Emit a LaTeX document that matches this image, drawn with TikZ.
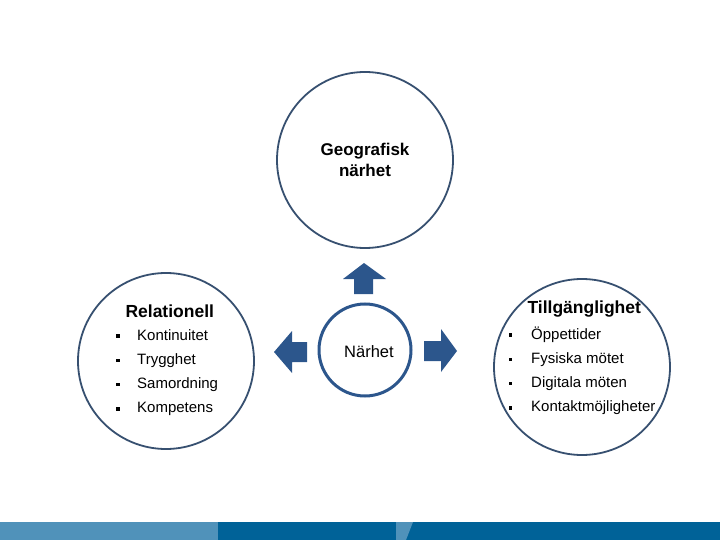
\documentclass[tikz,border=0pt]{standalone}
\usepackage{fontspec}
\setmainfont{Liberation Sans}
\usetikzlibrary{positioning}

\begin{document}
\begin{tikzpicture}[x=1pt,y=-1pt]
            \definecolor{ringblue}{RGB}{55, 80, 112}
            \definecolor{arrowblue}{RGB}{44, 86, 140}
            \definecolor{barlight}{RGB}{80, 146, 186}
            \definecolor{bardark}{RGB}{0, 98, 152}
            \tikzstyle{ring} = [circle, draw=ringblue, line width=1.8pt,
            minimum size=176pt, fill=white, inner sep=0pt]
            \tikzstyle{title} = [font=\fontsize{17.5}{21}\selectfont\bfseries, anchor=west]
            \tikzstyle{item} = [font=\fontsize{15}{18}\selectfont, anchor=west,
            inner sep=0pt, text height=11pt, text depth=3pt]
            \tikzstyle{bullet} = [fill=black, minimum size=3.2pt, inner sep=0pt]
            \tikzstyle{blockarrow} = [fill=arrowblue]
            \useasboundingbox (0,0) rectangle (720,540);

            \node (geo)[ring] at (365,160) {};
            \node (geotext)[align=center, font=\fontsize{17}{21}\selectfont\bfseries] at (geo.center) {Geografisk\\närhet};
            \node (naerhet)[circle, draw=arrowblue, line width=3pt, minimum size=92pt] at (365,350) {};
            \node (naerhettext)[font=\fontsize{16.5}{20}\selectfont] at (369,352) {Närhet};
            \node (rel)[ring] at (166,361) {};
            \node (till)[ring] at (582,367) {};

            % Relationell
            \node (reltitle)[title] at (122,311) {Relationell};
            \node (rel1)[item] at (137,336) {Kontinuitet};
            \node (rel2)[item, below=24.3pt of rel1.west, anchor=west] {Trygghet};
            \node (rel3)[item, below=24.3pt of rel2.west, anchor=west] {Samordning};
            \node (rel4)[item, below=24.3pt of rel3.west, anchor=west] {Kompetens};
            \foreach \i in {1,...,4}
                \node (relb\i)[bullet] at ([xshift=-19pt]rel\i.west) {};

            % Tillgänglighet
            \node (tilltitle)[title] at (524,309) {Tillgänglighet};
            \node (till1)[item] at (531,335) {Öppettider};
            \node (till2)[item, below=24.3pt of till1.west, anchor=west] {Fysiska mötet};
            \node (till3)[item, below=24.3pt of till2.west, anchor=west] {Digitala möten};
            \node (till4)[item, below=24.3pt of till3.west, anchor=west] {Kontaktmöjligheter};
            \foreach \i in {1,...,4}
                \node (tillb\i)[bullet] at ([xshift=-20.5pt]till\i.west) {};

            % block arrows round the centre
            \fill[blockarrow] (364,263) -- (386,279) -- (373,279) -- (373,294) -- (354,294) -- (354,279) -- (343,279) -- cycle;
            \fill[blockarrow] (274,352) -- (292,331) -- (292,342) -- (307,342) -- (307,362) -- (292,362) -- (292,373) -- cycle;
            \fill[blockarrow] (457,351) -- (441,329) -- (441,341) -- (424,341) -- (424,361) -- (441,361) -- (441,372) -- cycle;

            % bottom bar
            \fill[barlight] (0,522) rectangle (218,540);
            \fill[bardark] (218,522) rectangle (720,540);
            \fill[barlight] (396,522) -- (413,522) -- (406,540) -- (396,540) -- cycle;
        \end{tikzpicture}
\end{document}
